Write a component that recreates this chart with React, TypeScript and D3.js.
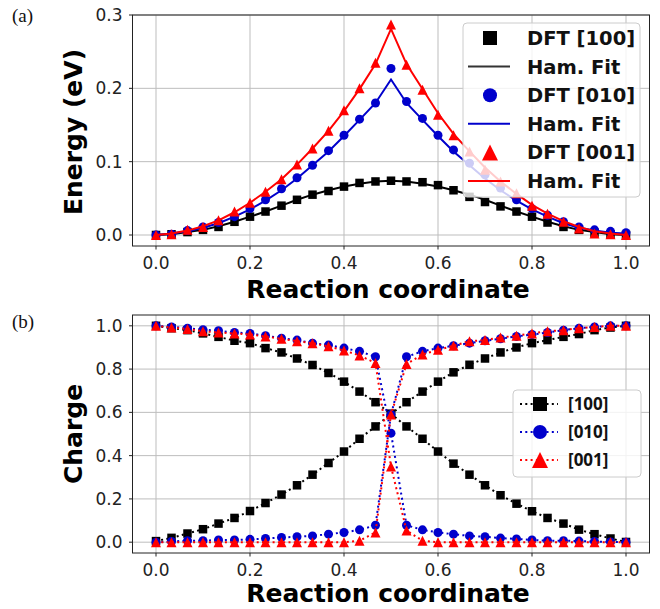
import React from 'react';
import * as d3 from 'd3';

// reaction coordinate of each image (31 images)
const coord = [0, 0.033, 0.067, 0.1, 0.133, 0.167, 0.2, 0.233, 0.267, 0.3, 0.333, 0.367, 0.4, 0.433, 0.467, 0.5,
  0.533, 0.567, 0.6, 0.633, 0.667, 0.7, 0.733, 0.767, 0.8, 0.833, 0.867, 0.9, 0.933, 0.967, 1.0];

// (a) energies, eV
const energyDft100 = [0, 0.001, 0.004, 0.007, 0.011, 0.018, 0.025, 0.032, 0.040, 0.048, 0.055, 0.060, 0.066, 0.071, 0.073, 0.074,
  0.073, 0.072, 0.068, 0.061, 0.052, 0.045, 0.039, 0.032, 0.025, 0.017, 0.011, 0.007, 0.003, 0.001, 0];
const energyFit100 = [0, 0.001, 0.004, 0.007, 0.012, 0.018, 0.025, 0.032, 0.040, 0.048, 0.055, 0.061, 0.066, 0.070, 0.073, 0.074,
  0.073, 0.070, 0.066, 0.061, 0.055, 0.048, 0.040, 0.032, 0.025, 0.018, 0.012, 0.007, 0.004, 0.001, 0];
const energyDft010 = [0, 0.001, 0.006, 0.011, 0.017, 0.025, 0.036, 0.048, 0.063, 0.078, 0.095, 0.115, 0.136, 0.158, 0.180, 0.227,
  0.182, 0.159, 0.136, 0.116, 0.098, 0.082, 0.064, 0.048, 0.036, 0.027, 0.018, 0.011, 0.007, 0.005, 0.003];
const energyFit010 = [0, 0.002, 0.005, 0.010, 0.016, 0.025, 0.035, 0.047, 0.061, 0.077, 0.095, 0.114, 0.135, 0.157, 0.180, 0.212,
  0.180, 0.157, 0.135, 0.114, 0.095, 0.077, 0.061, 0.047, 0.035, 0.025, 0.016, 0.010, 0.006, 0.003, 0.002];
const energyDft001 = [0, 0.001, 0.007, 0.011, 0.020, 0.032, 0.044, 0.059, 0.076, 0.096, 0.118, 0.142, 0.170, 0.200, 0.235, 0.287,
  0.232, 0.198, 0.164, 0.136, 0.114, 0.089, 0.073, 0.057, 0.040, 0.029, 0.018, 0.009, 0.002, 0.001, 0];
const energyFit001 = [0, 0.002, 0.006, 0.012, 0.020, 0.031, 0.044, 0.059, 0.076, 0.096, 0.118, 0.142, 0.169, 0.199, 0.233, 0.281,
  0.233, 0.199, 0.166, 0.138, 0.114, 0.092, 0.073, 0.056, 0.041, 0.029, 0.019, 0.011, 0.005, 0.002, 0];

// (b) charges on the two sites
const chargeDesc100 = [1.0, 0.989, 0.980, 0.965, 0.949, 0.931, 0.920, 0.897, 0.877, 0.849, 0.819, 0.782, 0.742, 0.696, 0.647, 0.593,
  0.535, 0.478, 0.419, 0.363, 0.312, 0.263, 0.217, 0.178, 0.143, 0.112, 0.086, 0.058, 0.037, 0.017, 0.001];
const chargeAsc100 = [0.005, 0.020, 0.040, 0.060, 0.086, 0.112, 0.144, 0.181, 0.220, 0.263, 0.312, 0.366, 0.419, 0.478, 0.535, 0.593,
  0.647, 0.696, 0.742, 0.785, 0.820, 0.849, 0.877, 0.900, 0.920, 0.934, 0.949, 0.962, 0.980, 0.992, 1.0];
const chargeDesc010 = [1.0, 0.995, 0.989, 0.982, 0.977, 0.969, 0.965, 0.954, 0.943, 0.934, 0.920, 0.911, 0.897, 0.882, 0.857, 0.504,
  0.078, 0.057, 0.045, 0.037, 0.029, 0.025, 0.019, 0.015, 0.010, 0.007, 0.007, 0.005, 0.003, 0.001, 0];
const chargeAsc010 = [0, 0.003, 0.007, 0.007, 0.010, 0.010, 0.013, 0.017, 0.022, 0.025, 0.029, 0.037, 0.045, 0.057, 0.078, 0.590,
  0.857, 0.882, 0.897, 0.908, 0.920, 0.931, 0.940, 0.951, 0.960, 0.969, 0.980, 0.989, 0.995, 1.0, 1.0];
const chargeDesc001 = [1.0, 0.992, 0.985, 0.975, 0.969, 0.965, 0.960, 0.951, 0.940, 0.929, 0.920, 0.905, 0.886, 0.863, 0.828, 0.350,
  0.054, 0.007, 0, 0, 0, 0, 0, 0, 0, 0, 0, 0, 0, 0, 0];
const chargeAsc001 = [0, 0, 0, 0, 0, 0, 0, 0, 0, 0, 0, 0, 0, 0.007, 0.045, 0.590,
  0.823, 0.868, 0.889, 0.908, 0.929, 0.934, 0.946, 0.954, 0.965, 0.975, 0.980, 0.989, 0.995, 1.0, 1.0];

const xTicks = [0, 0.2, 0.4, 0.6, 0.8, 1.0];
const energyTicks = [0, 0.1, 0.2, 0.3];
const chargeTicks = [0, 0.2, 0.4, 0.6, 0.8, 1.0];
const energyLegend = ['DFT [100]', 'Ham. Fit', 'DFT [010]', 'Ham. Fit', 'DFT [001]', 'Ham. Fit'];
const chargeLegend = ['[100]', '[010]', '[001]'];

const BLACK = '#000000';
const BLUE = '#0000cc';
const RED = '#ff0000';
const FONT = 'DejaVu Sans, sans-serif';

const x = d3.scaleLinear().domain([-0.05, 1.05]).range([132.5, 649.5]);
const yE = d3.scaleLinear().domain([-0.015, 0.3]).range([246, 15]);
const yC = d3.scaleLinear().domain([-0.05, 1.05]).range([553, 315]);

type Shape = 'square' | 'circle' | 'triangle';

const Marker = ({ shape, cx, cy, s, color }: { shape: Shape; cx: number; cy: number; s: number; color: string }) => {
  if (shape === 'square') return <rect x={cx - s / 2} y={cy - s / 2} width={s} height={s} fill={color} />;
  if (shape === 'circle') return <circle cx={cx} cy={cy} r={s / 2} fill={color} />;
  const h = s / 2;
  return <path d={`M${cx},${cy - h}L${cx + h},${cy + h}L${cx - h},${cy + h}Z`} fill={color} />;
};

const Axes = ({ y, yTicks, top, bottom, label, labelY, xLabelY, fmt }: any) => {
  const l = x.range()[0], r = x.range()[1];
  return (
    <g>
      {xTicks.map((t) => (
        <line key={'gx' + t} x1={x(t)} x2={x(t)} y1={top} y2={bottom} stroke="#bdbdbd" strokeWidth={1} />
      ))}
      {yTicks.map((t: number) => (
        <line key={'gy' + t} x1={l} x2={r} y1={y(t)} y2={y(t)} stroke="#bdbdbd" strokeWidth={1} />
      ))}
      {xTicks.map((t) => (
        <g key={'tx' + t}>
          <line x1={x(t)} x2={x(t)} y1={bottom} y2={bottom + 3.5} stroke="#222" />
          <text x={x(t)} y={bottom + 23} textAnchor="middle" fontFamily={FONT} fontSize={17} fill="#222">
            {d3.format('.1f')(t)}
          </text>
        </g>
      ))}
      {yTicks.map((t: number) => (
        <g key={'ty' + t}>
          <line x1={l - 3.5} x2={l} y1={y(t)} y2={y(t)} stroke="#222" />
          <text x={l - 10} y={y(t)} dy="0.36em" textAnchor="end" fontFamily={FONT} fontSize={17} fill="#222">
            {fmt(t)}
          </text>
        </g>
      ))}
      <rect x={l} y={top} width={r - l} height={bottom - top} fill="none" stroke="#222" strokeWidth={1} />
      <text x={(l + r) / 2 - 3} y={xLabelY} textAnchor="middle" fontFamily={FONT} fontWeight="bold" fontSize={25} fill="#000">
        Reaction coordinate
      </text>
      <text transform={`translate(82,${labelY}) rotate(-90)`} textAnchor="middle" fontFamily={FONT} fontWeight="bold" fontSize={25} fill="#000">
        {label}
      </text>
    </g>
  );
};

const App = () => {
  const lineE = (vals: number[]) => d3.line<number>().x((_, i) => x(coord[i])).y((d) => yE(d))(vals) || '';
  const lineC = (vals: number[]) => d3.line<number>().x((_, i) => x(coord[i])).y((d) => yC(d))(vals) || '';

  const energySeries = [
    { dft: energyDft100, fit: energyFit100, color: BLACK, shape: 'square' as Shape, s: 8.5 },
    { dft: energyDft010, fit: energyFit010, color: BLUE, shape: 'circle' as Shape, s: 9 },
    { dft: energyDft001, fit: energyFit001, color: RED, shape: 'triangle' as Shape, s: 10 },
  ];
  const chargeSeries = [
    { a: chargeDesc100, b: chargeAsc100, color: BLACK, shape: 'square' as Shape, s: 8.5 },
    { a: chargeDesc010, b: chargeAsc010, color: BLUE, shape: 'circle' as Shape, s: 9 },
    { a: chargeDesc001, b: chargeAsc001, color: RED, shape: 'triangle' as Shape, s: 10 },
  ];
  const legendSize: Record<string, number> = { square: 14, circle: 14, triangle: 16 };

  return (
    <div style={{ position: 'absolute', left: 0, top: 0 }}>
      <svg width={660} height={609} style={{ display: 'block', background: '#fff' }}>
        <text x={12} y={22} fontFamily="Liberation Serif, serif" fontSize={19} fill="#111">(a)</text>
        <text x={12} y={328} fontFamily="Liberation Serif, serif" fontSize={19} fill="#111">(b)</text>

        {/* (a) energy */}
        <Axes y={yE} yTicks={energyTicks} top={15} bottom={246} label="Energy (eV)" labelY={132} xLabelY={298} fmt={d3.format('.1f')} />
        {energySeries.map((s, k) => (
          <g key={'e' + k}>
            {s.dft.map((v, i) => (
              <Marker key={i} shape={s.shape} cx={x(coord[i])} cy={yE(v)} s={s.s} color={s.color} />
            ))}
            <path d={lineE(s.fit)} fill="none" stroke={s.color} strokeWidth={2} />
          </g>
        ))}
        <g>
          <rect x={463} y={23} width={177} height={174} rx={4} fill="#fff" fillOpacity={0.8} stroke="#cccccc" />
          {energyLegend.map((name, k) => {
            const s = energySeries[Math.floor(k / 2)];
            const cy = 38 + k * 28.6;
            return (
              <g key={'el' + k}>
                {k % 2 === 0 ? (
                  <Marker shape={s.shape} cx={490} cy={cy} s={legendSize[s.shape]} color={s.color} />
                ) : (
                  <line x1={468} x2={510} y1={cy} y2={cy} stroke={s.color === BLACK ? '#333' : s.color} strokeWidth={2} />
                )}
                <text x={527} y={cy} dy="0.36em" fontFamily={FONT} fontWeight="bold" fontSize={19.5} fill="#111">{name}</text>
              </g>
            );
          })}
        </g>

        {/* (b) charge */}
        <Axes y={yC} yTicks={chargeTicks} top={315} bottom={553} label="Charge" labelY={434} xLabelY={602} fmt={d3.format('.1f')} />
        {chargeSeries.map((s, k) => (
          <g key={'c' + k}>
            {[s.a, s.b].map((vals, j) => (
              <g key={j}>
                <path d={lineC(vals)} fill="none" stroke={s.color} strokeWidth={2} strokeDasharray="2 3.3" />
                {vals.map((v, i) => (
                  <Marker key={i} shape={s.shape} cx={x(coord[i])} cy={yC(v)} s={s.s} color={s.color} />
                ))}
              </g>
            ))}
          </g>
        ))}
        <g>
          <rect x={513} y={390} width={128} height={87} rx={4} fill="#fff" fillOpacity={0.8} stroke="#cccccc" />
          {chargeLegend.map((name, k) => {
            const s = chargeSeries[k];
            const cy = 404 + k * 28;
            return (
              <g key={'cl' + k}>
                <line x1={520} x2={558} y1={cy} y2={cy} stroke={s.color} strokeWidth={2} strokeDasharray="2 3.3" />
                <Marker shape={s.shape} cx={540} cy={cy} s={legendSize[s.shape]} color={s.color} />
                <text x={568} y={cy} dy="0.36em" fontFamily="Open Sans, sans-serif" fontWeight={700} fontSize={17} fill="#111">{name}</text>
              </g>
            );
          })}
        </g>
      </svg>
    </div>
  );
};

export default App;
